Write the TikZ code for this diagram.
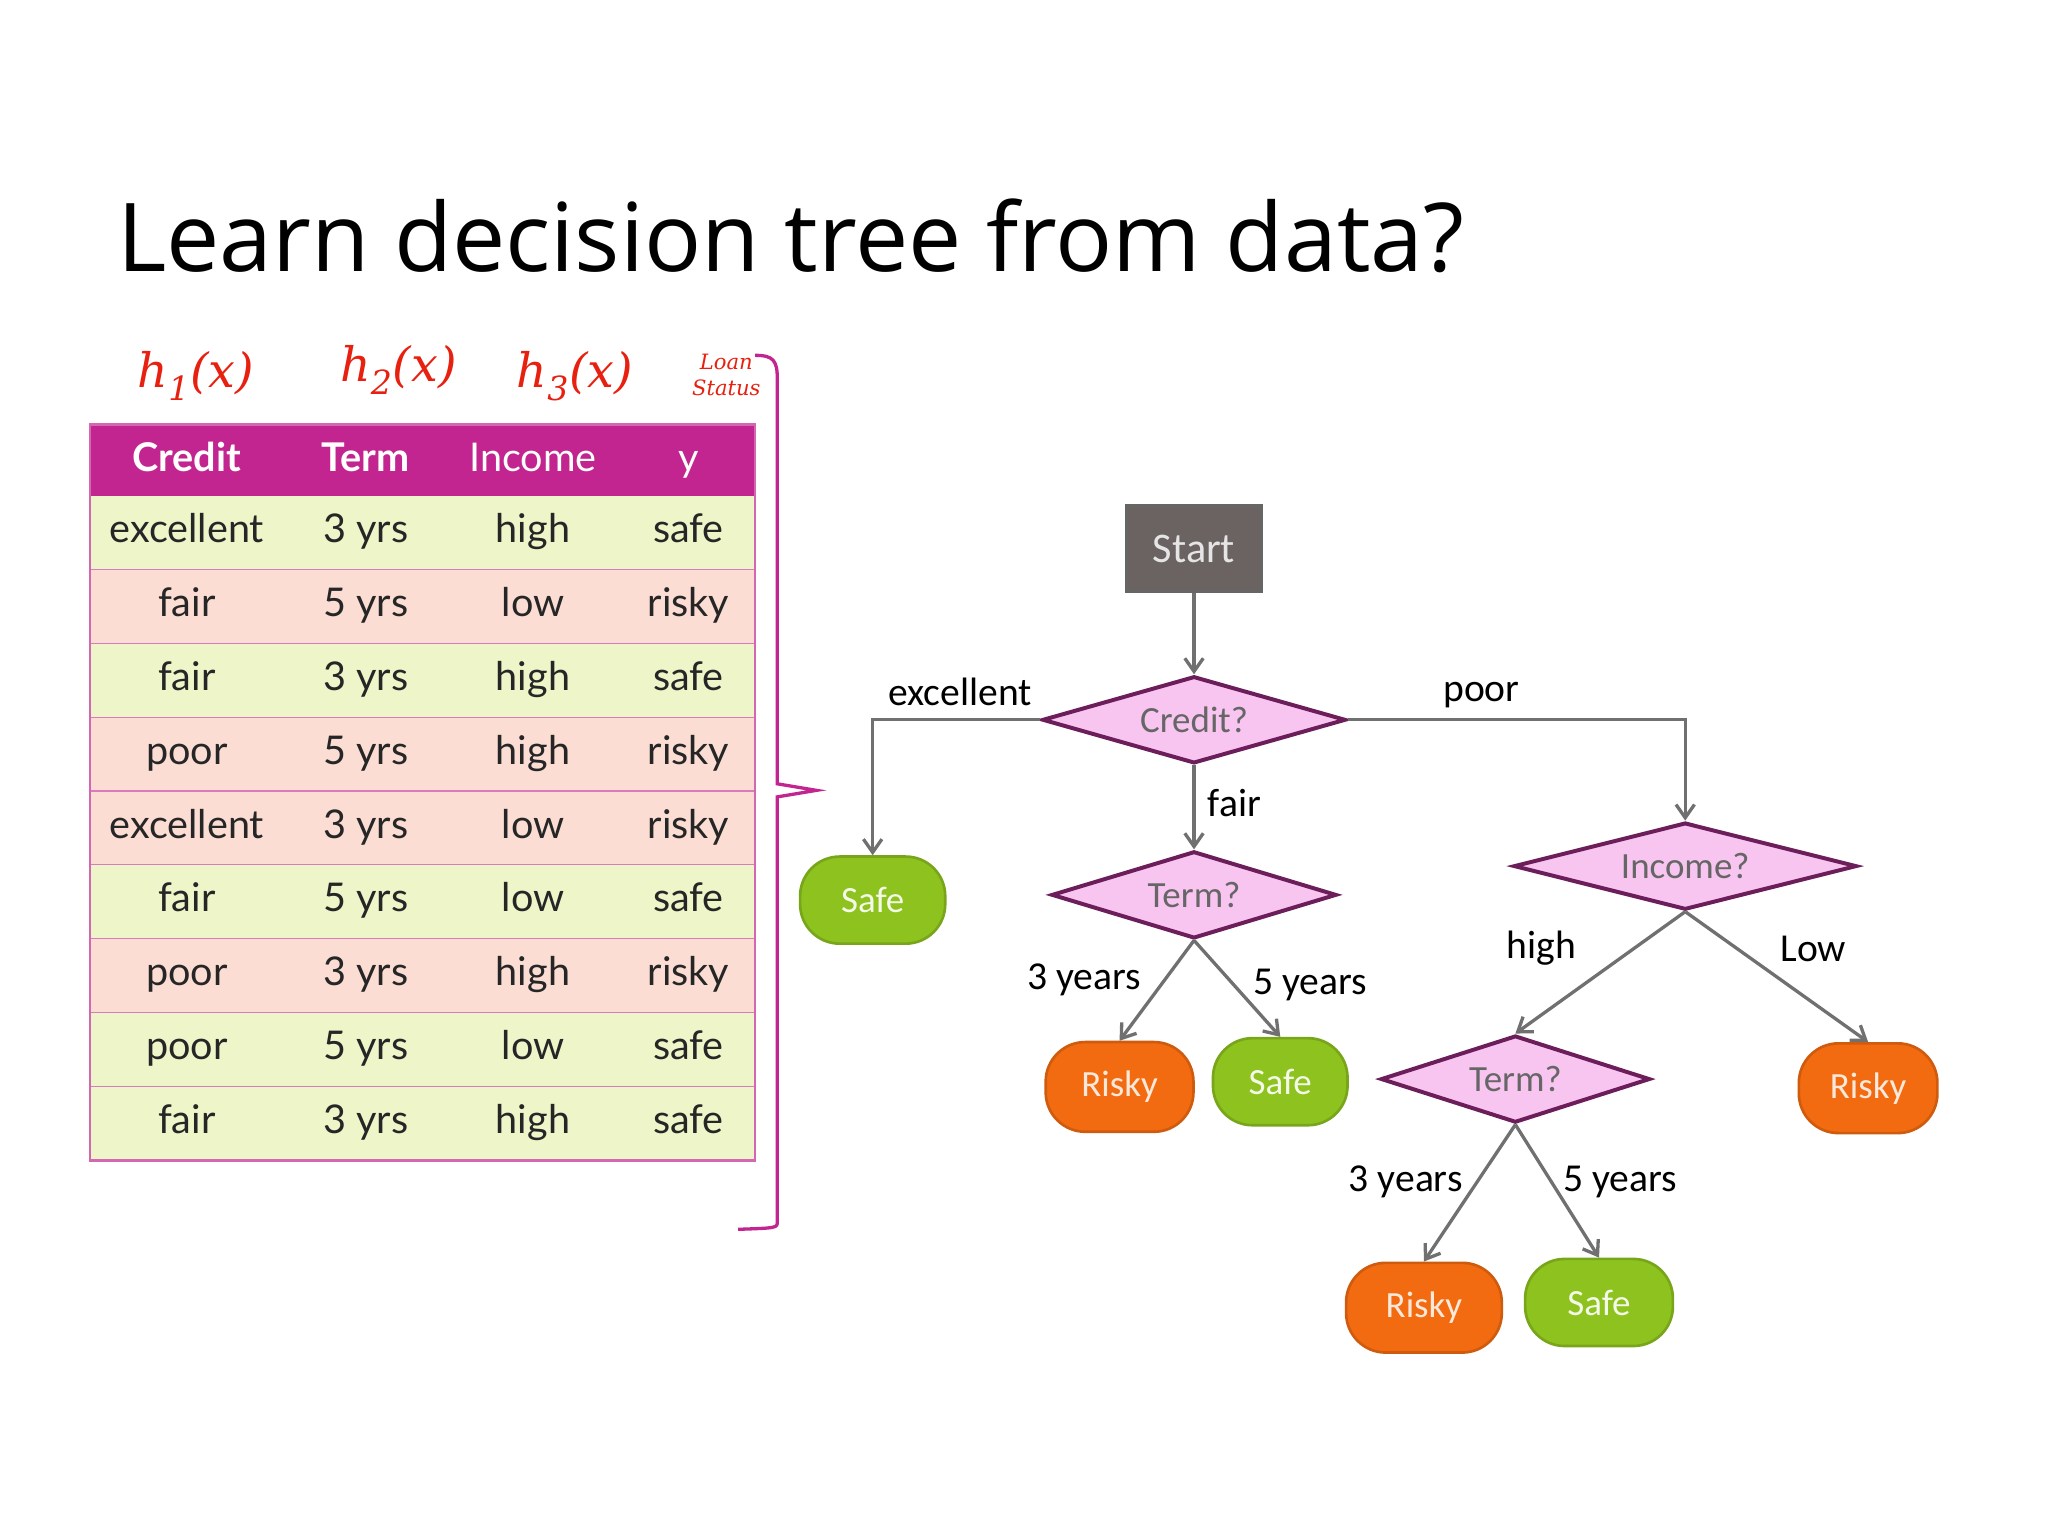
\documentclass[tikz,border=0pt]{standalone}
\usepackage{fontspec}
\setmainfont{Open Sans}
\newfontfamily\tabfont{Lato}
\newfontfamily\treefont{Carlito}
\newfontfamily\handfont{DejaVu Serif}
\usetikzlibrary{shapes.geometric,arrows.meta}
\definecolor{mag}{HTML}{C2258F}
\definecolor{rowg}{HTML}{EEF5C8}
\definecolor{rowp}{HTML}{FBDDD3}
\definecolor{hand}{HTML}{E8200F}
\definecolor{dpink}{HTML}{F8C4F0}
\definecolor{dbord}{HTML}{6B1E5A}
\definecolor{lgreen}{HTML}{8DC21F}
\definecolor{lorange}{HTML}{F26B10}
\definecolor{edge}{HTML}{707070}
\definecolor{startc}{HTML}{6B6262}
\tikzset{
 cell/.style={font=\tabfont\fontsize{30}{30}\selectfont, text=black!85, text height=22pt, text depth=7pt},
 hcell/.style={font=\tabfont\bfseries\fontsize{30}{30}\selectfont, text=white, text height=22pt, text depth=7pt},
 dec/.style={diamond, aspect=3.4, draw=dbord, line width=3pt, fill=dpink, inner sep=0pt, font=\treefont\fontsize{28}{28}\selectfont, text=black!60},
 leafg/.style={rectangle, rounded corners=30pt, fill=lgreen, draw=lgreen!85!black, line width=2pt, text=white!90!lgreen, font=\treefont\fontsize{28}{28}\selectfont, minimum height=66pt},
 leafo/.style={rectangle, rounded corners=30pt, fill=lorange, draw=lorange!85!black, line width=2pt, text=white!85!lorange, font=\treefont\fontsize{28}{28}\selectfont, minimum height=68pt},
 arr/.style={draw=edge, line width=2.5pt, -{Straight Barb[length=10pt,width=14pt]}},
 lab/.style={font=\treefont\fontsize{30}{30}\selectfont, text=black},
 hw/.style={text=hand, font=\handfont\itshape\fontsize{36}{36}\selectfont},
}
\begin{document}
\begin{tikzpicture}[x=0.99pt,y=-0.99pt]
\useasboundingbox[fill=white] (0,0) rectangle (1567.7,1175.8);
\node[anchor=base west, font=\fontsize{72}{72}\selectfont, text=black] (title) at (86,208) {Learn decision tree from data?};
% table
\fill[mag] (69,325) rectangle (578,380);
\foreach \i/\c in {0/rowg,1/rowp,2/rowg,3/rowp,4/rowp,5/rowg,6/rowp,7/rowg,8/rowg}{
  \fill[\c] (69,380+\i*56.5) rectangle (578,436.5+\i*56.5);
  \draw[mag!60, line width=2pt] (69,436.5+\i*56.5) -- (578,436.5+\i*56.5);
}
\draw[mag!70, line width=2pt] (69,325) rectangle (578,888.5);
\node[hcell] (h1) at (143,353) {Credit};
\node[hcell] (h2) at (280,353) {Term};
\node[hcell,font=\tabfont\fontsize{30}{30}\selectfont] (h3) at (408,353) {Income};
\node[hcell,font=\tabfont\fontsize{30}{30}\selectfont] (h4) at (527,353) {y};
\foreach \i/\a/\b/\cc/\d in {0/excellent/3 yrs/high/safe,1/fair/5 yrs/low/risky,2/fair/3 yrs/high/safe,3/poor/5 yrs/high/risky,4/excellent/3 yrs/low/risky,5/fair/5 yrs/low/safe,6/poor/3 yrs/high/risky,7/poor/5 yrs/low/safe,8/fair/3 yrs/high/safe}{
  \node[cell] (ca\i) at (143,408+\i*56.5) {\a};
  \node[cell] (cb\i) at (280,408+\i*56.5) {\b};
  \node[cell] (cc\i) at (408,408+\i*56.5) {\cc};
  \node[cell] (cd\i) at (527,408+\i*56.5) {\d};
}
% handwriting
\node[hw] (hx1) at (150,288) {h\textsubscript{1}(x)};
\node[hw] (hx2) at (305,283) {h\textsubscript{2}(x)};
\node[hw] (hx3) at (440,288) {h\textsubscript{3}(x)};
\node[hw, font=\handfont\itshape\fontsize{16}{19}\selectfont, align=center] (ls) at (556,287) {Loan\\Status};
\draw[mag, line width=2.5pt] (578,272) .. controls (592,272) and (595,276) .. (595,290) -- (595,600) -- (625,605) -- (595,610) -- (595,935) .. controls (595,940) .. (565,941);
% tree
\node[rectangle, fill=startc, draw=black!60, line width=2pt, minimum width=102pt, minimum height=65pt, text=white!80!gray, font=\treefont\fontsize{32}{32}\selectfont] (start) at (914,420) {Start};
\node[dec, minimum width=230pt, minimum height=66pt] (credit) at (914,551) {Credit?};
\node[dec, minimum width=216pt, minimum height=66pt] (term1) at (914,685) {Term?};
\node[dec, minimum width=260pt, minimum height=66pt] (income) at (1290,663) {Income?};
\node[dec, minimum width=204pt, minimum height=66pt] (term2) at (1160,826) {Term?};
\node[leafg, minimum width=110pt] (safe1) at (668,689) {Safe};
\node[leafo, minimum width=112pt] (risky1) at (857,832) {Risky};
\node[leafg, minimum width=102pt] (safe2) at (980,828) {Safe};
\node[leafo, minimum width=105pt] (risky2) at (1430,833) {Risky};
\node[leafo, minimum width=118pt] (risky3) at (1090,1001) {Risky};
\node[leafg, minimum width=112pt] (safe3) at (1224,997) {Safe};
\draw[arr] (start) -- (credit.north);
\draw[arr] (credit.west) -| (safe1.north);
\draw[arr] (credit.east) -| (income.north);
\draw[arr] (credit.south) -- (term1.north);
\draw[arr] (term1.south) -- (risky1.north);
\draw[arr] (term1.south) -- (safe2.north);
\draw[arr] (income.south) -- (term2.north);
\draw[arr] (income.south) -- (risky2.north);
\draw[arr] (term2.south) -- (risky3.north);
\draw[arr] (term2.south) -- (safe3.north);
\node[lab] (lexc) at (735,530) {excellent};
\node[lab] (lpoor) at (1134,532) {poor};
\node[lab] (lfair) at (945,615) {fair};
\node[lab] (l3a) at (830,750) {3 years};
\node[lab] (l5a) at (1003,754) {5 years};
\node[lab] (lhigh) at (1180,726) {high};
\node[lab] (llow) at (1388,726) {Low};
\node[lab] (l3b) at (1076,905) {3 years};
\node[lab] (l5b) at (1240,905) {5 years};
\end{tikzpicture}
\end{document}
